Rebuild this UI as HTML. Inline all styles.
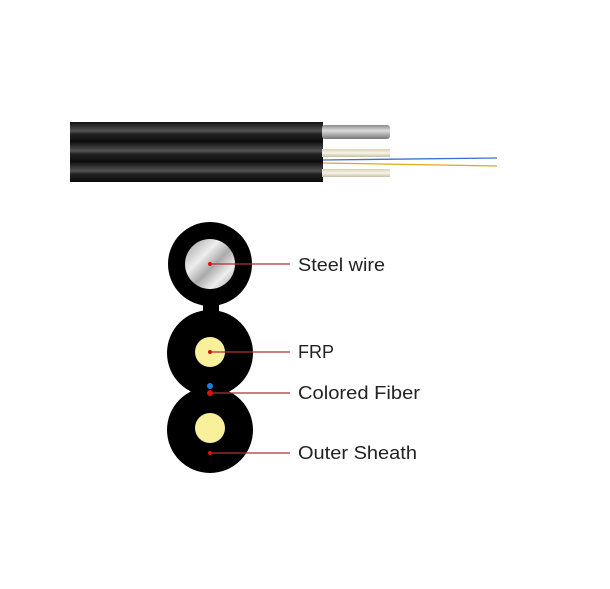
<!DOCTYPE html>
<html><head><style>
body{margin:0;width:610px;height:584px;background:#fff;overflow:hidden}
</style></head><body>
<svg width="610" height="584" xmlns="http://www.w3.org/2000/svg">
<defs>
<linearGradient id="blk" x1="0" y1="0" x2="0" y2="1">
<stop offset="0" stop-color="#111"/><stop offset="0.45" stop-color="#555"/><stop offset="0.6" stop-color="#222"/><stop offset="1" stop-color="#0a0a0a"/></linearGradient>
<linearGradient id="sil" x1="0" y1="0" x2="0" y2="1">
<stop offset="0" stop-color="#888"/><stop offset="0.4" stop-color="#ddd"/><stop offset="1" stop-color="#777"/></linearGradient>
<linearGradient id="crm" x1="0" y1="0" x2="0" y2="1">
<stop offset="0" stop-color="#d8d0b8"/><stop offset="0.5" stop-color="#f8f4e6"/><stop offset="1" stop-color="#c8c0a8"/></linearGradient>
<linearGradient id="sil2" x1="0" y1="0" x2="1" y2="1">
<stop offset="0" stop-color="#999"/><stop offset="0.35" stop-color="#eee"/><stop offset="0.55" stop-color="#aaa"/><stop offset="0.75" stop-color="#eee"/><stop offset="1" stop-color="#999"/></linearGradient>
</defs>
<rect x="70" y="122" width="253" height="20" fill="url(#blk)"/>
<rect x="70" y="142" width="253" height="20" fill="url(#blk)"/>
<rect x="70" y="162" width="253" height="20" fill="url(#blk)"/>
<rect x="322" y="125" width="68" height="14" rx="3" fill="url(#sil)"/>
<rect x="322" y="149" width="68" height="8" fill="url(#crm)"/>
<rect x="322" y="169" width="68" height="8" fill="url(#crm)"/>
<line x1="323" y1="160" x2="497" y2="158" stroke="#3a6fd0" stroke-width="1.3"/>
<line x1="323" y1="163" x2="497" y2="166" stroke="#e0a820" stroke-width="1.3"/>
<rect x="203" y="295" width="16" height="22" fill="#000"/>
<circle cx="210" cy="264" r="42" fill="#000"/>
<circle cx="210" cy="264" r="25" fill="url(#sil2)"/>
<circle cx="210" cy="353" r="43" fill="#000"/>
<circle cx="210" cy="352" r="15" fill="#f8f09a"/>
<circle cx="210" cy="430" r="43" fill="#000"/>
<circle cx="210" cy="428" r="15" fill="#f8f09a"/>
<circle cx="210" cy="386" r="3" fill="#1e7fd8"/>
<g stroke="#b03030" stroke-width="1.2">
<line x1="210" y1="264" x2="290" y2="264"/>
<line x1="210" y1="352" x2="290" y2="352"/>
<line x1="210" y1="393" x2="290" y2="393"/>
<line x1="210" y1="453" x2="290" y2="453"/>
</g>
<g fill="#e01010">
<circle cx="210" cy="264" r="2"/><circle cx="210" cy="352" r="2"/><circle cx="210" cy="393" r="3"/><circle cx="210" cy="453" r="2"/>
</g>
<g font-family="Liberation Sans, sans-serif" font-size="18" fill="#222">
<text x="298" y="271" textLength="87" lengthAdjust="spacingAndGlyphs">Steel wire</text>
<text x="298" y="358">FRP</text>
<text x="298" y="399" textLength="122" lengthAdjust="spacingAndGlyphs">Colored Fiber</text>
<text x="298" y="459" textLength="119" lengthAdjust="spacingAndGlyphs">Outer Sheath</text>
</g>
</svg>
</body></html>
